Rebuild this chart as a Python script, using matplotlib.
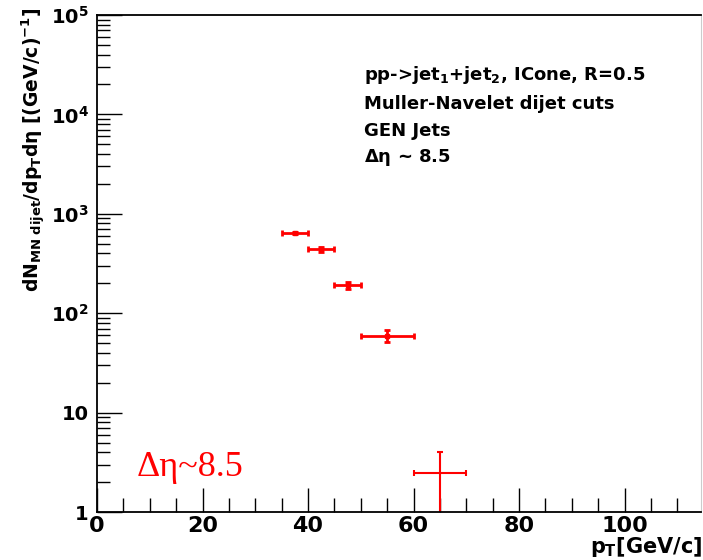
import numpy as np
import matplotlib
matplotlib.use('Agg')
import matplotlib.pyplot as plt
from matplotlib.ticker import FixedLocator, FixedFormatter, LogLocator, MultipleLocator, NullFormatter

plt.rcParams['font.family'] = ['DejaVu Sans']
plt.rcParams['font.weight'] = 'bold'
plt.rcParams['mathtext.fontset'] = 'custom'
plt.rcParams['mathtext.rm'] = 'DejaVu Sans:bold'
plt.rcParams['mathtext.it'] = 'DejaVu Sans:bold'
plt.rcParams['mathtext.bf'] = 'DejaVu Sans:bold'
plt.rcParams['mathtext.sf'] = 'DejaVu Sans:bold'

# MN dijet pT spectrum, GEN jets, delta eta ~ 8.5
pt = [37.5, 42.5, 47.5, 55.0]
pt_err = [2.5, 2.5, 2.5, 5.0]
dn = [645.0, 440.0, 192.0, 59.0]
dn_err = [15.0, 26.0, 16.0, 8.0]

# last bin, drawn from a separate histogram
pt_last = [65.0]
pt_last_err = [5.0]
dn_last = [2.45]
dn_last_err = [1.56]

ytick_vals = [1, 10, 1e2, 1e3, 1e4, 1e5]
ytick_text = ['1', '10', '$10^{2}$', '$10^{3}$', '$10^{4}$', '$10^{5}$']

fig = plt.figure(figsize=(7.03, 5.6), dpi=100)
ax = fig.add_axes([97/703, 48/560, 604/703, 497/560])

ax.errorbar(pt, dn, xerr=pt_err, yerr=dn_err, fmt='s', color='red', ms=3,
            lw=2, capsize=2.5, capthick=2)
ax.errorbar(pt_last, dn_last, xerr=pt_last_err, yerr=dn_last_err, fmt='none',
            color='red', lw=1.5, capsize=2.5, capthick=1.5)

ax.set_yscale('log')
ax.set_xlim(0, 114.5)
ax.set_ylim(1, 1e5)

ax.yaxis.set_major_locator(FixedLocator(ytick_vals))
ax.yaxis.set_major_formatter(FixedFormatter(ytick_text))
ax.yaxis.set_minor_locator(LogLocator(base=10, subs=np.arange(2, 10)))
ax.yaxis.set_minor_formatter(NullFormatter())
ax.xaxis.set_major_locator(MultipleLocator(20))
ax.xaxis.set_minor_locator(MultipleLocator(5))

ax.tick_params(which='both', direction='in', top=False, right=False, width=1)
ax.tick_params(which='major', axis='y', length=18, labelsize=14, pad=6)
ax.tick_params(which='minor', axis='y', length=9)
ax.tick_params(which='major', axis='x', length=17, labelsize=16, pad=3)
ax.tick_params(which='minor', axis='x', length=10)
for s in ['left', 'bottom', 'top']:
    ax.spines[s].set_linewidth(1.3)
ax.spines['right'].set_color('#cccccc')

fig.text(0.999, 0.002, r'$p_{T}$[GeV/c]', ha='right', va='bottom', fontsize=15)
fig.text(0.049, 0.987, r'$dN_{MN\ dijet}/dp_{T}d\eta$ [(GeV/c)$^{-1}$]',
         rotation=90, ha='center', va='top', fontsize=13.5)

info = [r'pp->jet$_{1}$+jet$_{2}$, ICone, R=0.5',
        'Muller-Navelet dijet cuts',
        'GEN Jets',
        r'$\Delta\eta$ ~ 8.5']
ys = [75, 104, 131, 158]
for txt, yy in zip(info, ys):
    fig.text(364/703, 1 - yy/560, txt, ha='left', va='center', fontsize=13)

fig.text(137/703, 1 - 476/560, 'Δη~8.5', color='red', fontsize=26,
         family='Liberation Serif', weight='normal', va='baseline')

fig.savefig('out.png', dpi=100, facecolor='white')
